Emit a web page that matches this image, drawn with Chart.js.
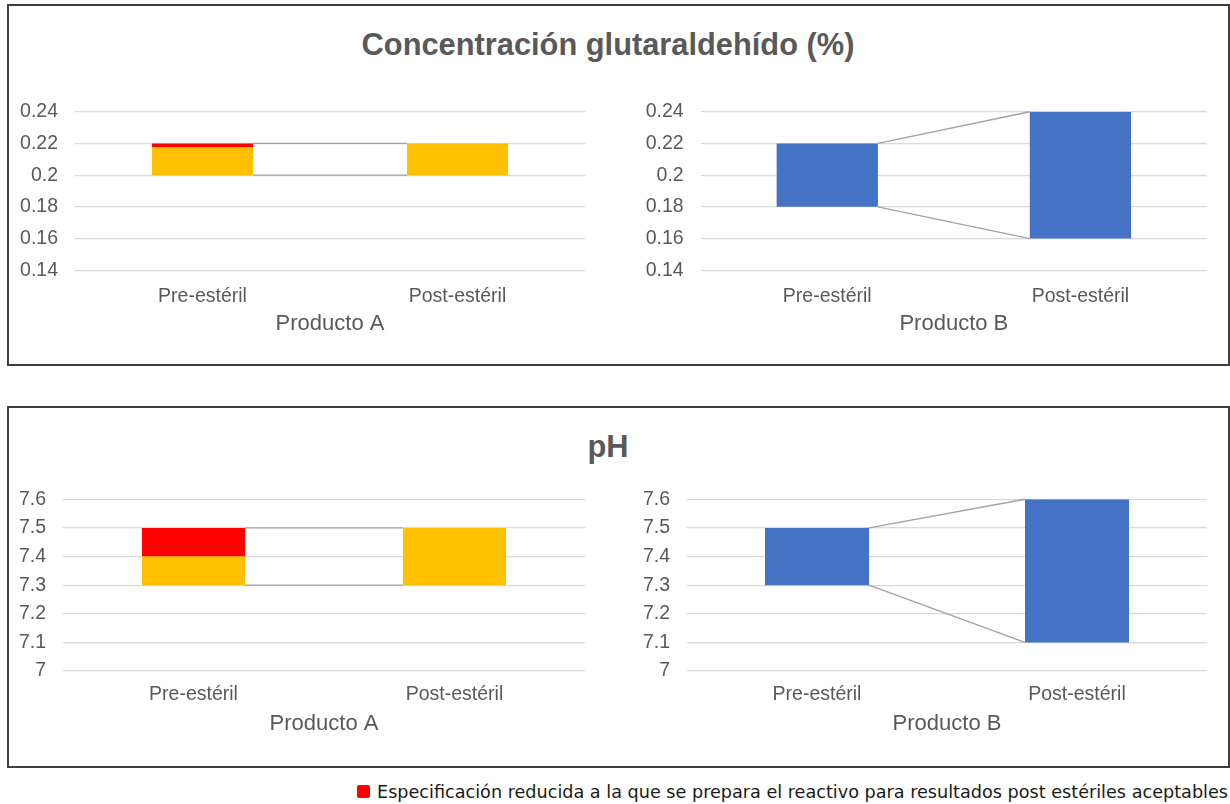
<!DOCTYPE html>
<html>
<head>
<meta charset="utf-8">
<script src="https://cdn.jsdelivr.net/npm/chart.js@4.4.1/dist/chart.umd.min.js"></script>
<style>
  html, body { margin: 0; padding: 0; background: #ffffff; }
  body { width: 1230px; height: 804px; position: relative; overflow: hidden;
         font-family: "Liberation Sans", Arial, sans-serif; }
  .panel { position: absolute; left: 7px; width: 1223px; height: 362px;
           box-sizing: border-box; border: 2px solid #3f3f3f; }
  #panelGlut { top: 4px; }
  #panelPH { top: 406px; }
  .titulo { position: absolute; left: 0; width: 1216px; text-align: center;
            font-weight: bold; font-size: 30.8px; line-height: 31px; color: #595959; }
  .caja { position: absolute; }
  .caja canvas { display: block; }
  #leyenda { position: absolute; left: 357px; top: 784px; height: 16px; white-space: nowrap; }
  #leyenda .marca { position: absolute; left: 0; top: 1px; width: 13px; height: 13px;
                    background: #ff0000; border-radius: 2px; }
  #leyenda .texto { position: absolute; left: 20px; top: -2px; font-size: 17px; line-height: 20px;
                    color: #1a1a1a; transform-origin: 0 50%;
                    font-family: "Liberation Sans Narrow", "DejaVu Sans Condensed", "Open Sans", sans-serif; }
</style>
</head>
<body>

<div class="panel" id="panelGlut"></div>
<div class="panel" id="panelPH"></div>
<div class="titulo" style="top:29px;">Concentración glutaraldehído (%)</div>
<div class="titulo" style="top:431px;">pH</div>

<div class="caja" style="left:8px; top:80px;"><canvas id="glutA" width="600" height="270"></canvas></div>
<div class="caja" style="left:615px; top:80px;"><canvas id="glutB" width="600" height="270"></canvas></div>
<div class="caja" style="left:8px; top:470px;"><canvas id="phA" width="600" height="280"></canvas></div>
<div class="caja" style="left:615px; top:470px;"><canvas id="phB" width="600" height="280"></canvas></div>

<div id="leyenda"><span class="marca"></span><span class="texto" id="leyendaTexto">Especificación reducida a la que se prepara el reactivo para resultados post estériles aceptables</span></div>

<script>
// Categorías y marcas de los ejes
const categorias = ['Pre-estéril', 'Post-estéril'];
const ticksGlut = [0.14, 0.16, 0.18, 0.2, 0.22, 0.24];
const ticksPH = [7, 7.1, 7.2, 7.3, 7.4, 7.5, 7.6];

// Rangos de especificación [mínimo, máximo]
const glutA_rango = [[0.2, 0.2175], [0.2, 0.22]];
const glutA_reducida = [[0.2175, 0.22], null];
const glutB_rango = [[0.18, 0.22], [0.16, 0.24]];
const phA_rango = [[7.3, 7.4], [7.3, 7.5]];
const phA_reducida = [[7.4, 7.5], null];
const phB_rango = [[7.3, 7.5], [7.1, 7.6]];

const AMARILLO = '#ffc000';
const ROJO = '#ff0000';
const AZUL = '#4472c4';
const TEXTO = '#595959';

Chart.defaults.font.family = '"Liberation Sans", Arial, sans-serif';

// Líneas de serie que unen los extremos de barras contiguas
const lineasSerie = {
  id: 'lineasSerie',
  afterDatasetsDraw(chart) {
    const n = chart.data.labels.length;
    const ys = chart.scales.y;
    const barras = chart.getDatasetMeta(0).data;
    const extremos = [];
    for (let i = 0; i < n; i++) {
      let lo = Infinity, hi = -Infinity;
      chart.data.datasets.forEach(ds => {
        const v = ds.data[i];
        if (v) { lo = Math.min(lo, v[0]); hi = Math.max(hi, v[1]); }
      });
      extremos.push([lo, hi]);
    }
    const ctx = chart.ctx;
    ctx.save();
    ctx.strokeStyle = '#a3a3a3';
    ctx.lineWidth = 1.4;
    for (let i = 0; i < n - 1; i++) {
      const a = barras[i], b = barras[i + 1];
      const x1 = a.x + a.width / 2, x2 = b.x - b.width / 2;
      for (const k of [0, 1]) {
        ctx.beginPath();
        ctx.moveTo(x1, ys.getPixelForValue(extremos[i][k]));
        ctx.lineTo(x2, ys.getPixelForValue(extremos[i + 1][k]));
        ctx.stroke();
      }
    }
    ctx.restore();
  }
};

function crearGrafico(id, datasets, ticks, titulo, d) {
  return new Chart(document.getElementById(id), {
    type: 'bar',
    data: { labels: categorias, datasets: datasets },
    options: {
      responsive: false,
      animation: false,
      layout: { padding: { top: d.pt, right: d.pr, bottom: d.pb, left: 0 } },
      plugins: { legend: { display: false }, tooltip: { enabled: false } },
      datasets: { bar: { categoryPercentage: 1, barPercentage: d.bp, borderWidth: 0 } },
      scales: {
        x: {
          stacked: true,
          grid: { display: false, drawTicks: false },
          border: { display: false },
          ticks: { color: TEXTO, font: { size: 19.5 }, padding: d.tp },
          title: { display: true, text: titulo, color: TEXTO, font: { size: 22 }, padding: 0 },
          afterFit: s => { s.height = d.xh; }
        },
        y: {
          min: ticks[0],
          max: ticks[ticks.length - 1],
          grid: { color: '#d9d9d9', lineWidth: 1.2, drawTicks: false },
          border: { display: false },
          ticks: { color: TEXTO, font: { size: 19.5 }, padding: 17, callback: v => String(v) },
          afterBuildTicks: s => { s.ticks = ticks.map(v => ({ value: v })); },
          afterFit: s => { s.width = d.yw; }
        }
      }
    },
    plugins: [lineasSerie]
  });
}

const dimGlutA = { yw: 67, pr: 23, pt: 31.7, pb: 12.7, xh: 67, tp: 15, bp: 0.396 };
const dimGlutB = { yw: 85.7, pr: 8, pt: 31.7, pb: 12.7, xh: 67, tp: 15, bp: 0.4 };
const dimPhA = { yw: 55, pr: 23, pt: 29.3, pb: 13, xh: 66, tp: 12, bp: 0.395 };
const dimPhB = { yw: 72, pr: 8, pt: 29.3, pb: 13, xh: 66, tp: 12, bp: 0.4 };

crearGrafico('glutA', [
  { data: glutA_rango, backgroundColor: AMARILLO },
  { data: glutA_reducida, backgroundColor: ROJO }
], ticksGlut, 'Producto A', dimGlutA);

crearGrafico('glutB', [
  { data: glutB_rango, backgroundColor: AZUL }
], ticksGlut, 'Producto B', dimGlutB);

crearGrafico('phA', [
  { data: phA_rango, backgroundColor: AMARILLO },
  { data: phA_reducida, backgroundColor: ROJO }
], ticksPH, 'Producto A', dimPhA);

crearGrafico('phB', [
  { data: phB_rango, backgroundColor: AZUL }
], ticksPH, 'Producto B', dimPhB);

// Ajuste horizontal del texto de la leyenda a su ancho
(function () {
  const t = document.getElementById('leyendaTexto');
  const w = t.getBoundingClientRect().width;
  const objetivo = 851;
  if (w > 0) t.style.transform = 'scaleX(' + (objetivo / w) + ')';
})();
</script>
</body>
</html>
